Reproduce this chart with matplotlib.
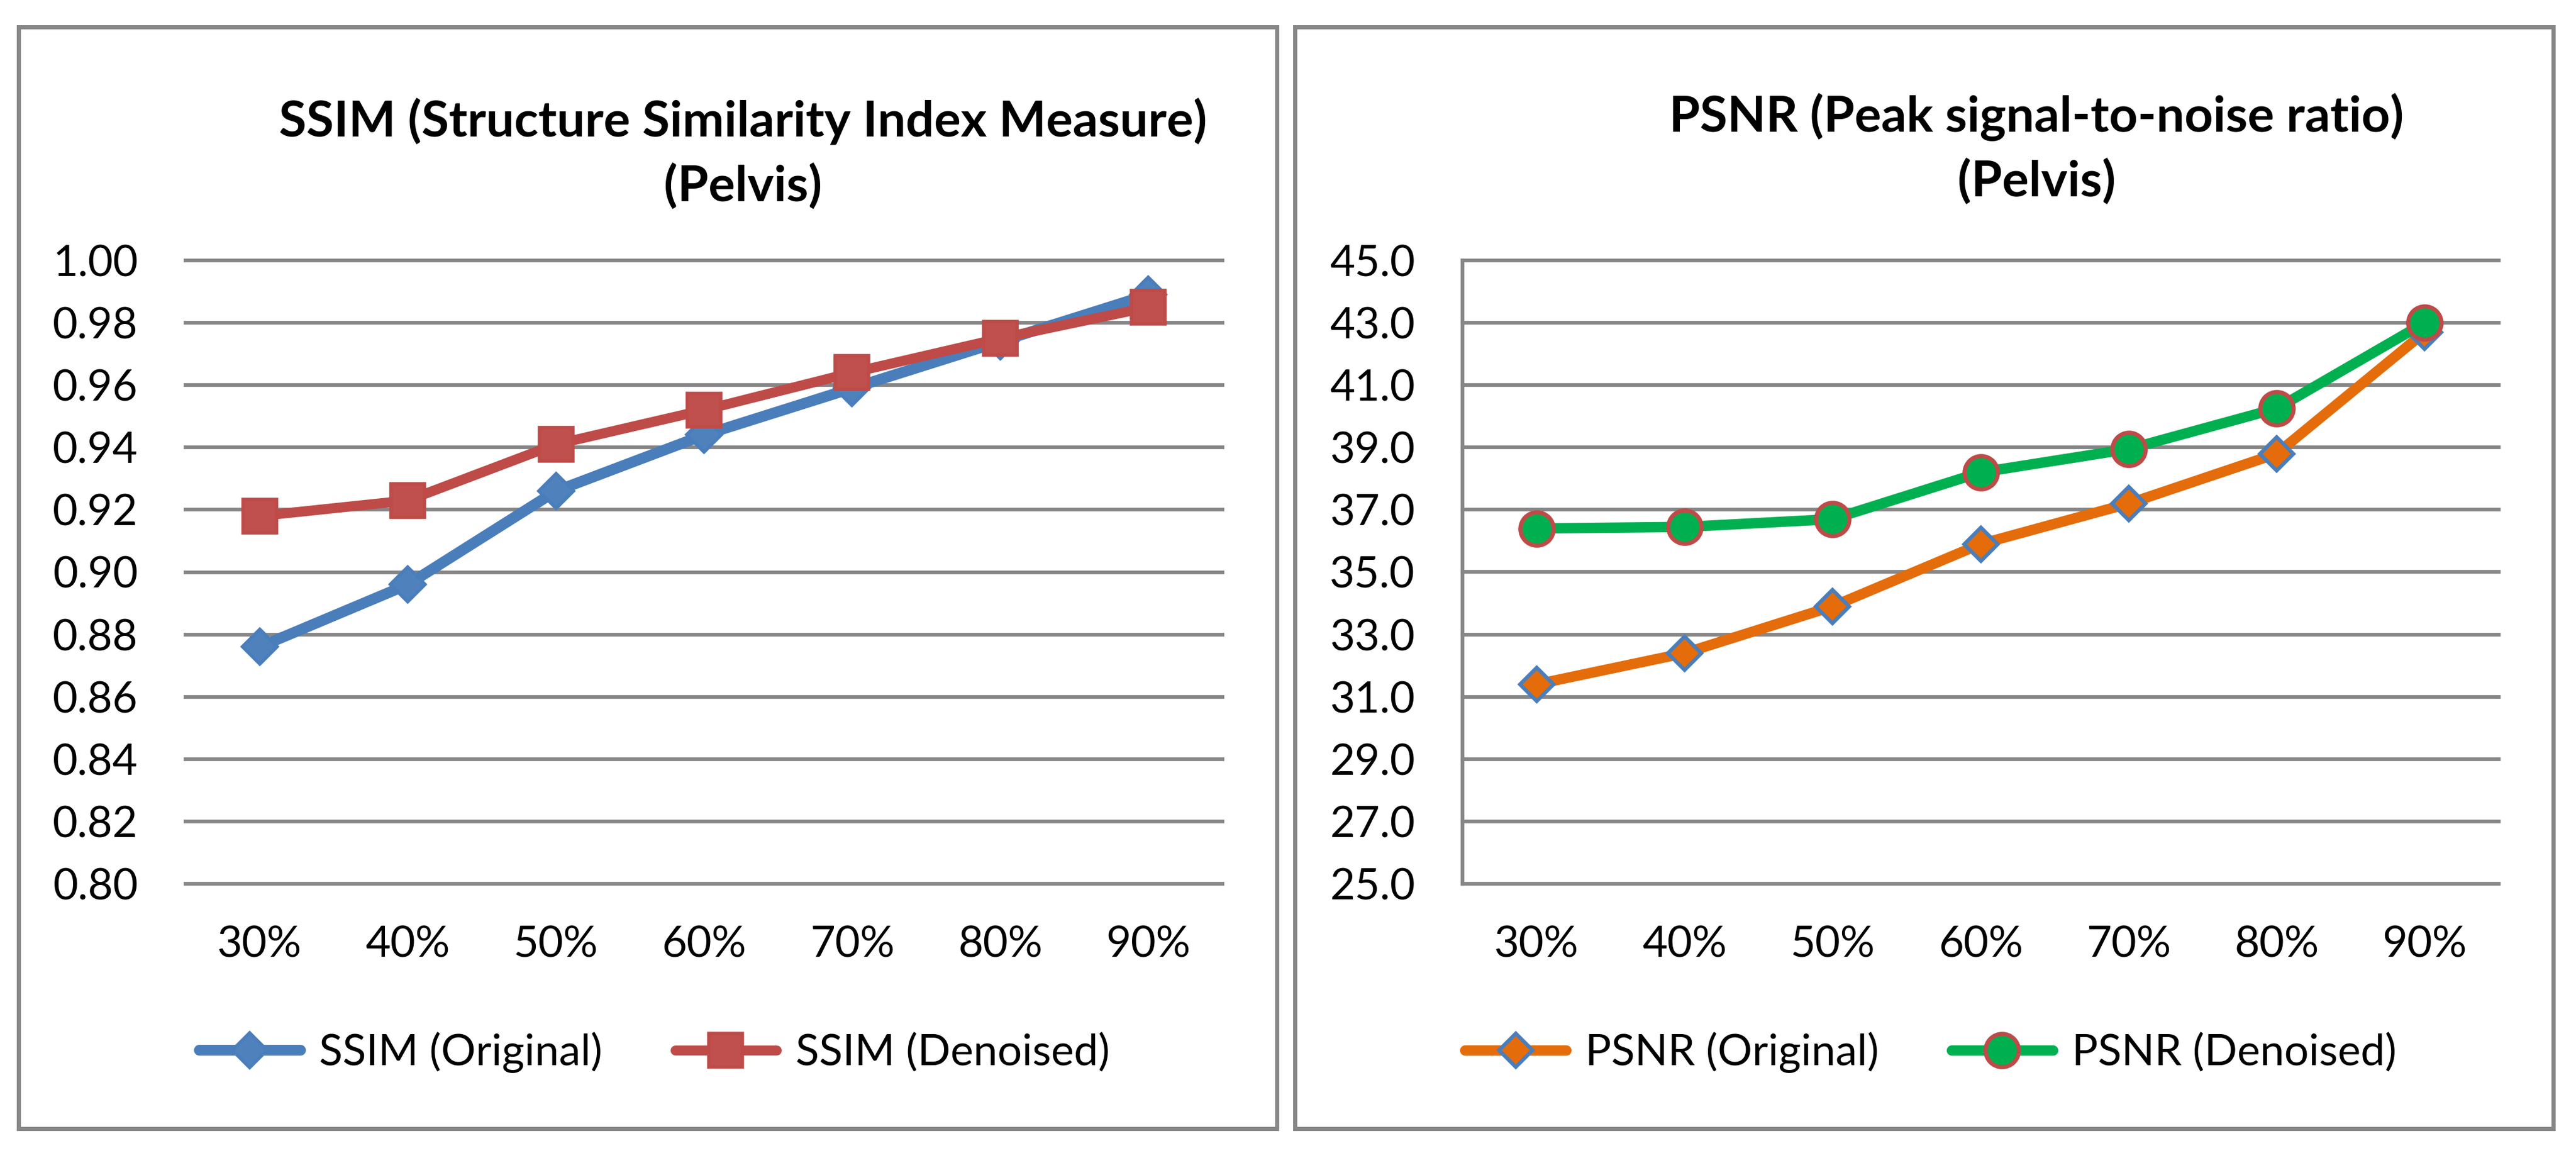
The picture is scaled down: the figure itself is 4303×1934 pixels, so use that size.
import matplotlib
matplotlib.use("Agg")
import matplotlib.pyplot as plt
from matplotlib.patches import Rectangle

plt.rcParams['font.family'] = ['Lato', 'DejaVu Sans']

# data
categories = ['30%', '40%', '50%', '60%', '70%', '80%', '90%']
ssim_original = [0.876, 0.896, 0.926, 0.944, 0.959, 0.974, 0.989]
ssim_denoised = [0.918, 0.923, 0.941, 0.952, 0.964, 0.975, 0.985]
psnr_original = [31.4, 32.4, 33.9, 35.9, 37.2, 38.8, 42.7]
psnr_denoised = [36.4, 36.45, 36.7, 38.2, 38.95, 40.25, 43.0]
ssim_ticks = [0.80, 0.82, 0.84, 0.86, 0.88, 0.90, 0.92, 0.94, 0.96, 0.98, 1.00]
psnr_ticks = [25.0, 27.0, 29.0, 31.0, 33.0, 35.0, 37.0, 39.0, 41.0, 43.0, 45.0]

W, H = 4303, 1934
DPI = 100
GRID = '#878787'
FS = 52
TFS = 60

fig = plt.figure(figsize=(W / DPI, H / DPI), dpi=DPI)


def px(x0, y0, x1, y1):
    # pixel box (top-left origin) -> figure fraction rect
    return [x0 / W, 1 - y1 / H, (x1 - x0) / W, (y1 - y0) / H]


# panel borders
for x0, x1 in [(31, 2133), (2163, 4265)]:
    fig.patches.append(Rectangle((x0 / W, 1 - 1885 / H), (x1 - x0) / W, (1885 - 45) / H,
                                 transform=fig.transFigure, fill=False,
                                 edgecolor=GRID, lw=5))


def setup(ax, ticks, fmt, left_spine):
    x = range(len(categories))
    ax.set_xlim(-0.5, len(categories) - 0.5)
    ax.set_ylim(ticks[0], ticks[-1])
    ax.set_yticks(ticks)
    ax.set_yticklabels([fmt.format(t) for t in ticks])
    ax.set_xticks(list(x))
    ax.set_xticklabels(categories)
    for s in ['top', 'right', 'bottom']:
        ax.spines[s].set_visible(False)
    ax.spines['left'].set_visible(left_spine)
    ax.spines['left'].set_color(GRID)
    ax.spines['left'].set_linewidth(4.5)
    ax.tick_params(axis='y', length=0, pad=57, labelsize=FS)
    ax.tick_params(axis='x', length=0, pad=50, labelsize=FS)
    ax.yaxis.grid(True, color=GRID, lw=4.5)
    for gl in ax.get_ygridlines():
        gl.set_clip_on(False)
    ax.set_axisbelow(True)


# left chart
ax1 = fig.add_axes(px(310, 435, 2042, 1476))
setup(ax1, ssim_ticks, '{:.2f}', False)
x = range(len(categories))
ax1.plot(x, ssim_original, color='#4A7EBB', lw=13, marker='D', ms=30,
         mfc='#4F81BD', mec='#4A7EBB', mew=4, label='SSIM (Original)',
         clip_on=False, solid_capstyle='round')
ax1.plot(x, ssim_denoised, color='#BE4B48', lw=12, marker='s', ms=41,
         mfc='#C0504D', mec='#BE4B48', mew=4, label='SSIM (Denoised)',
         clip_on=False, solid_capstyle='round')
fig.text(1241 / W, 1 - 228 / H, 'SSIM (Structure Similarity Index Measure)',
         ha='center', va='baseline', fontsize=TFS, fontweight='bold')
fig.text(1241 / W, 1 - 336 / H, '(Pelvis)',
         ha='center', va='baseline', fontsize=TFS, fontweight='bold')
ax1.legend(loc='center', bbox_to_anchor=(1093 / W, 1 - 1758 / H),
           bbox_transform=fig.transFigure, ncol=2, frameon=False,
           fontsize=FS, handlelength=2.34, handletextpad=0.44,
           columnspacing=1.68, numpoints=1)

# right chart
ax2 = fig.add_axes(px(2443, 435, 4174, 1476))
setup(ax2, psnr_ticks, '{:.1f}', True)
ax2.plot(x, psnr_original, color='#E46C0A', lw=12.5, marker='D', ms=29,
         mfc='#E46C0A', mec='#4A7EBB', mew=4.5, label='PSNR (Original)',
         clip_on=False, solid_capstyle='round')
ax2.plot(x, psnr_denoised, color='#00B050', lw=12.5, marker='o', ms=40,
         mfc='#00B050', mec='#BE4B48', mew=5, label='PSNR (Denoised)',
         clip_on=False, solid_capstyle='round')
fig.text(3402 / W, 1 - 220 / H, 'PSNR (Peak signal-to-noise ratio)',
         ha='center', va='baseline', fontsize=TFS, fontweight='bold')
fig.text(3402 / W, 1 - 328 / H, '(Pelvis)',
         ha='center', va='baseline', fontsize=TFS, fontweight='bold')
ax2.legend(loc='center', bbox_to_anchor=(3225 / W, 1 - 1758 / H),
           bbox_transform=fig.transFigure, ncol=2, frameon=False,
           fontsize=FS, handlelength=2.34, handletextpad=0.44,
           columnspacing=1.68, numpoints=1)

fig.savefig('out.png', dpi=DPI)
